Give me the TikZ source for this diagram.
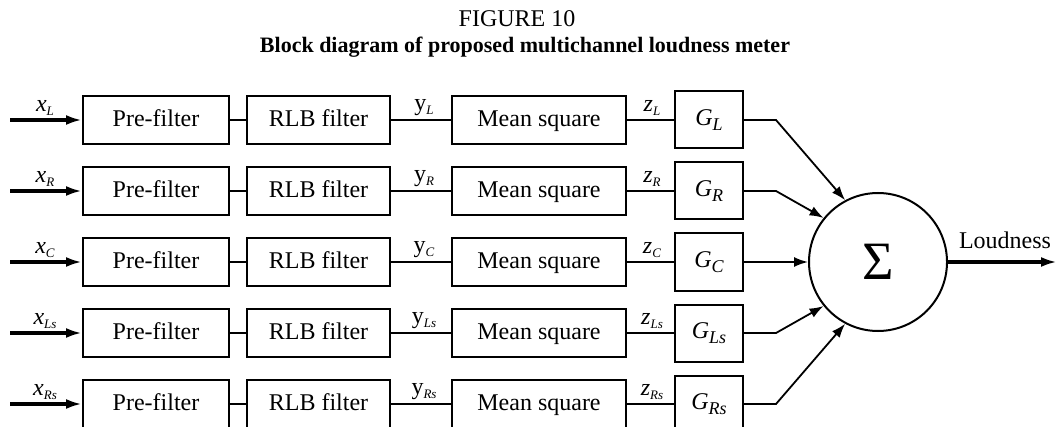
\documentclass[tikz,border=0pt]{standalone}
\usepackage{fontspec}
\setmainfont{Liberation Serif}
\usetikzlibrary{arrows.meta}
\newcommand{\sig}[2]{#1\raisebox{-0.35ex}{\fontsize{6.5}{7}\selectfont\textit{#2}}}
\newcommand{\gsig}[2]{#1\raisebox{-0.5ex}{\fontsize{9}{10}\selectfont\textit{#2}}}
\begin{document}
\begin{tikzpicture}[x=0.5pt,y=-0.5pt,
 blk/.style={draw,line width=1pt,minimum height=24pt,inner sep=0pt,text height=8.5pt,text depth=2pt,font=\fontsize{12}{14}\selectfont},
 gblk/.style={draw,line width=1pt,minimum width=34pt,minimum height=28.5pt,inner sep=0pt,font=\fontsize{12}{14}\selectfont},
 wire/.style={line width=0.75pt},
 inarrow/.style={line width=1.6pt,-{Latex[length=8pt,width=5pt]}},
 sumarrow/.style={line width=0.9pt,-{Latex[length=7pt,width=5pt]}},
 lab/.style={inner sep=0pt,font=\fontsize{12}{14}\selectfont},
 slab/.style={inner sep=0pt,anchor=south,font=\fontsize{12}{14}\selectfont}]
\useasboundingbox (0,0) rectangle (1059,427);
\node[lab] (title) at (517,19) {FIGURE 10};
\node[lab,font=\fontsize{11}{13}\selectfont\bfseries] (subtitle) at (525,47) {Block diagram of proposed multichannel loudness meter};
\node[draw,circle,line width=1pt,minimum size=69pt,inner sep=0pt,font=\fontsize{27}{29}\selectfont] (sum) at (878,262) {Σ};
\foreach \i/\y/\s/\ang in {1/120/L/118, 2/191/R/141, 3/262/C/180, 4/333/Ls/219, 5/404/Rs/242}{
  \node[blk,minimum width=73pt] (pre\i) at (156,\y) {Pre-filter};
  \node[blk,minimum width=71.5pt] (rlb\i) at (318.5,\y) {RLB filter};
  \node[blk,minimum width=87pt] (ms\i) at (539,\y) {Mean square};
  \node[gblk] (g\i) at (709,\y) {\gsig{\textit{G}}{\s}};
  \coordinate (in\i) at (10,\y);
  \draw[inarrow] (in\i) -- (pre\i.west);
  \draw[wire] (pre\i) -- (rlb\i);
  \draw[wire] (rlb\i) -- (ms\i);
  \draw[wire] (ms\i) -- (g\i);
  \node[slab] (xl\i) at (45,\y-4) {\sig{\textit{x}}{\s}};
  \node[slab] (yl\i) at (424,\y-4) {\sig{y}{\s}};
  \node[slab] (zl\i) at (652,\y-4) {\sig{\textit{z}}{\s}};
  \coordinate (k\i) at (776,\y);
}
\draw[sumarrow] (g1.east) -- (k1) -- (sum.118);
\draw[sumarrow] (g2.east) -- (k2) -- (sum.141);
\draw[sumarrow] (g3.east) -- (sum.west);
\draw[sumarrow] (g4.east) -- (k4) -- (sum.219);
\draw[sumarrow] (g5.east) -- (k5) -- (sum.242);
\coordinate (out) at (1057,262);
\draw[inarrow] (sum.east) -- (out);
\node[lab] (loud) at (1005,240) {Loudness};
\end{tikzpicture}
\end{document}
